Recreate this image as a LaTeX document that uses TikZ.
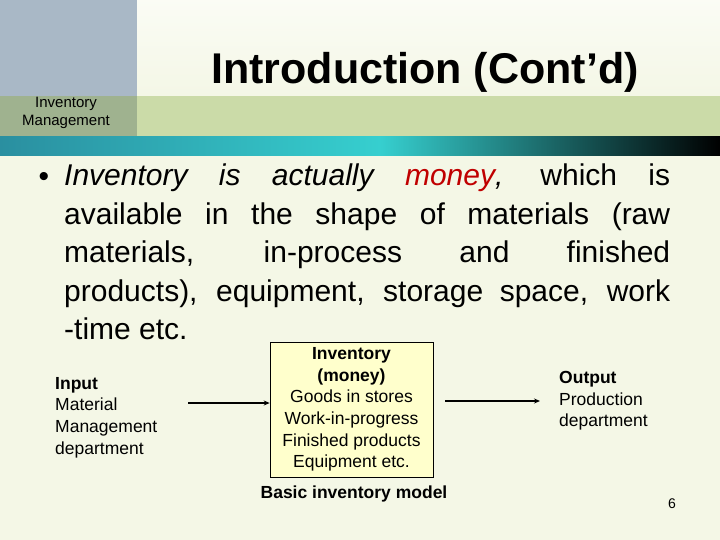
\documentclass[tikz,border=0pt]{standalone}
\usepackage{fontspec}
\setmainfont{Liberation Sans}
\usetikzlibrary{arrows.meta}
\definecolor{bg}{HTML}{F4F7E6}
\definecolor{band}{HTML}{CBDBA8}
\definecolor{blk}{HTML}{A9B8C6}
\definecolor{blk2}{HTML}{9FB28F}
\definecolor{teal1}{HTML}{2A8FA0}
\definecolor{teal2}{HTML}{36CFCF}
\definecolor{boxfill}{HTML}{FFFFCC}
\definecolor{money}{HTML}{C00000}
\tikzset{x=1pt,y=-1pt,
  small/.style={font=\fontsize{17.5}{21.6}\selectfont,inner sep=0pt},
  arr/.style={-{Stealth[length=6pt,width=5pt]},line width=1.2pt}}
\begin{document}
\begin{tikzpicture}
\useasboundingbox (0,0) rectangle (720,540);
\fill[bg] (0,0) rectangle (720,540);
\fill[top color=white!60!bg,bottom color=bg] (137,0) rectangle (720,96);
\fill[band] (0,96) rectangle (720,137);
\fill[blk] (0,0) rectangle (137,96);
\fill[blk2] (0,96) rectangle (137,137);
\fill[left color=teal1,right color=teal2] (0,137) rectangle (380,156);
\fill[left color=teal2,right color=black] (380,137) rectangle (720,156);
\node[font=\fontsize{15}{18}\selectfont,align=center,inner sep=0pt] (hdr) at (66,113) {Inventory\\Management};
\node[font=\bfseries\fontsize{43}{46}\selectfont,inner sep=0pt] (title) at (425,72) {Introduction (Cont’d)};
\node[font=\fontsize{30}{38.5}\selectfont,inner sep=0pt] (bul) at (44,179) {•};
\node[font=\fontsize{30}{38.5}\selectfont,text width=606pt,align=justify,inner sep=0pt,anchor=north west] (body) at (64,164)
 {\textit{Inventory is actually \textcolor{money}{money},} which is\linebreak available in the shape of materials (raw\linebreak materials, in-process and finished\linebreak products), equipment, storage space, work\linebreak -time etc.};
\node[small,align=left,anchor=north west] (inp) at (55,377) {\textbf{Input}\\Material\\Management\\department};
\node[small,draw,fill=boxfill,align=center,minimum width=163pt,minimum height=135pt,line width=0.6pt] (inv) at (351.5,409.5) {\textbf{Inventory}\\\textbf{(money)}\\Goods in stores\\Work-in-progress\\Finished products\\Equipment etc.};
\node[small,align=left,anchor=north west] (out) at (559,371) {\textbf{Output}\\Production\\department};
\node[font=\bfseries\fontsize{17.5}{20}\selectfont,inner sep=0pt] (cap) at (354,494) {Basic inventory model};
\node[font=\fontsize{14}{16}\selectfont,inner sep=0pt] (pg) at (672,504) {6};
\coordinate (a1) at (188,403);
\coordinate (a2) at (445,401);
\coordinate (a3) at (540,401);
\draw[arr] (a1) -- (inv.west |- a1);
\draw[arr] (a2) -- (a3);
\end{tikzpicture}
\end{document}
